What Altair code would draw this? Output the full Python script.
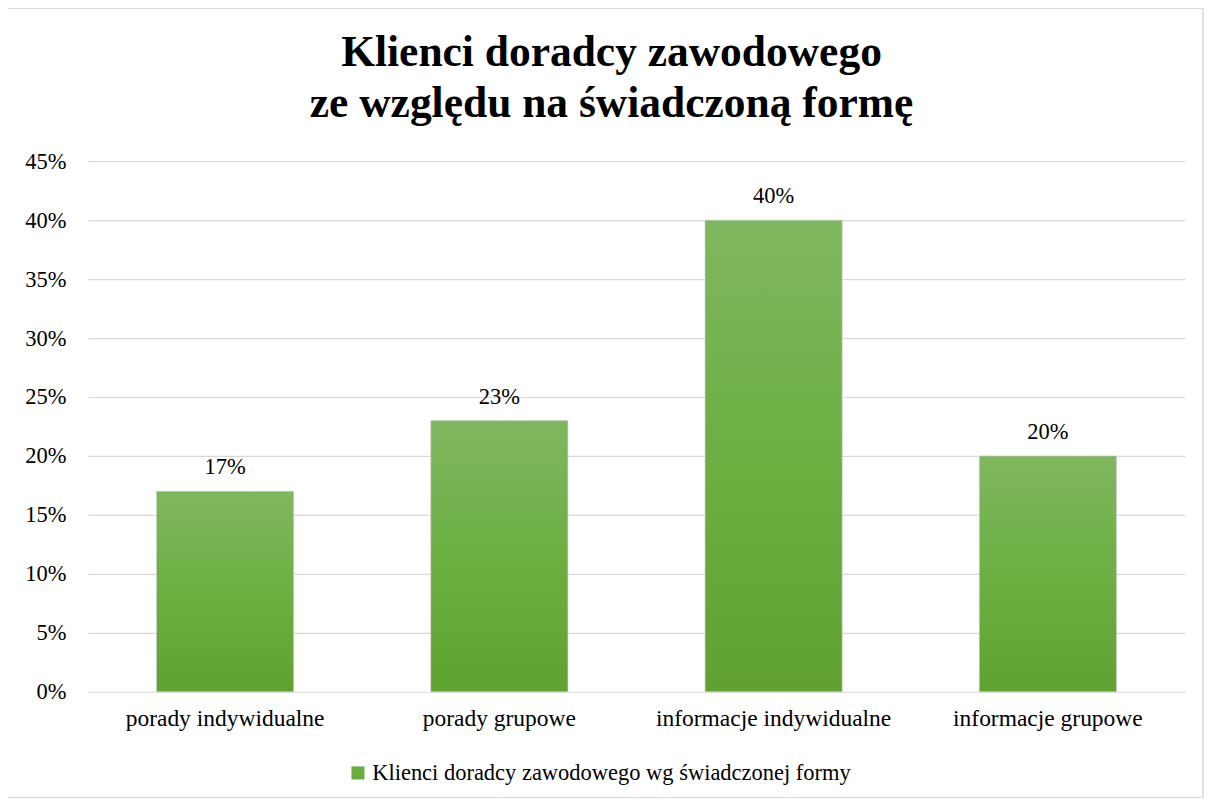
import altair as alt
import pandas as pd

categories = ["porady indywidualne", "porady grupowe", "informacje indywidualne", "informacje grupowe"]
values = [0.17, 0.23, 0.40, 0.20]
series_name = "Klienci doradcy zawodowego wg świadczonej formy"
title_line1 = "Klienci doradcy zawodowego"
title_line2 = "ze względu na świadczoną formę"

df = pd.DataFrame({"kategoria": categories, "wartosc": values, "seria": [series_name] * 4})

FONT = "Liberation Serif"
FS = 22.5
W, H = 1098, 531

grad = alt.Gradient(
    gradient="linear",
    stops=[
        alt.GradientStop(color="#7fb760", offset=0),
        alt.GradientStop(color="#6daf42", offset=0.5),
        alt.GradientStop(color="#60a131", offset=1),
    ],
    x1=0, x2=0, y1=0, y2=1,
)

x = alt.X(
    "kategoria:N",
    sort=categories,
    title=None,
    scale=alt.Scale(paddingInner=0.5, paddingOuter=0.25),
    axis=alt.Axis(labelAngle=0, labelFont=FONT, labelFontSize=23.5, labelColor="#000000",
                  domain=False, ticks=False, labelPadding=15, labelLimit=0),
)
y = alt.Y(
    "wartosc:Q",
    title=None,
    scale=alt.Scale(domain=[0, 0.45]),
    axis=alt.Axis(format=".0%", values=[i / 100 for i in range(0, 46, 5)],
                  labelFont=FONT, labelFontSize=FS, labelColor="#000000",
                  domain=False, ticks=False, labelPadding=22,
                  grid=True, gridColor="#d9d9d9", gridWidth=1.2),
)

bars = alt.Chart(df).mark_bar(fill=grad, stroke="#cfcfcf", strokeWidth=1, strokeOpacity=0.6).encode(
    x=x,
    y=y,
    color=alt.Color("seria:N", scale=alt.Scale(range=["#6aad3f"]),
                    legend=alt.Legend(title=None, orient="none", legendX=259, legendY=601,
                                      symbolType="square", symbolSize=170,
                                      labelFont=FONT, labelFontSize=FS, labelLimit=0,
                                      labelColor="#000000", symbolStrokeWidth=0, labelOffset=3)),
)

labels = alt.Chart(df).mark_text(font=FONT, fontSize=FS, color="#000000", dy=-24).encode(
    x=alt.X("kategoria:N", sort=categories),
    y="wartosc:Q",
    text=alt.Text("wartosc:Q", format=".0%"),
)

one = alt.Data(values=[{}])
border = alt.Chart(one).mark_rect(fill=None, stroke="#d9d9d9", strokeWidth=1.5).encode(
    x=alt.value(-81), x2=alt.value(1116), y=alt.value(-153), y2=alt.value(637)
)
t1 = alt.Chart(one).mark_text(font=FONT, fontSize=43.5, fontWeight="bold", color="#000000",
                              baseline="middle", align="center").encode(
    x=alt.value(524), y=alt.value(-108), text=alt.value(title_line1))
t2 = alt.Chart(one).mark_text(font=FONT, fontSize=43.5, fontWeight="bold", color="#000000",
                              baseline="middle", align="center").encode(
    x=alt.value(524), y=alt.value(-57), text=alt.value(title_line2))

chart = alt.layer(border, t1, t2, bars, labels).properties(
    width=W,
    height=H,
    padding={"left": 80, "top": 153, "right": 19, "bottom": 106},
    autosize=alt.AutoSizeParams(type="none"),
).configure_view(stroke=None)

chart.save("out.html", embed_options={"renderer": "svg", "actions": False})
